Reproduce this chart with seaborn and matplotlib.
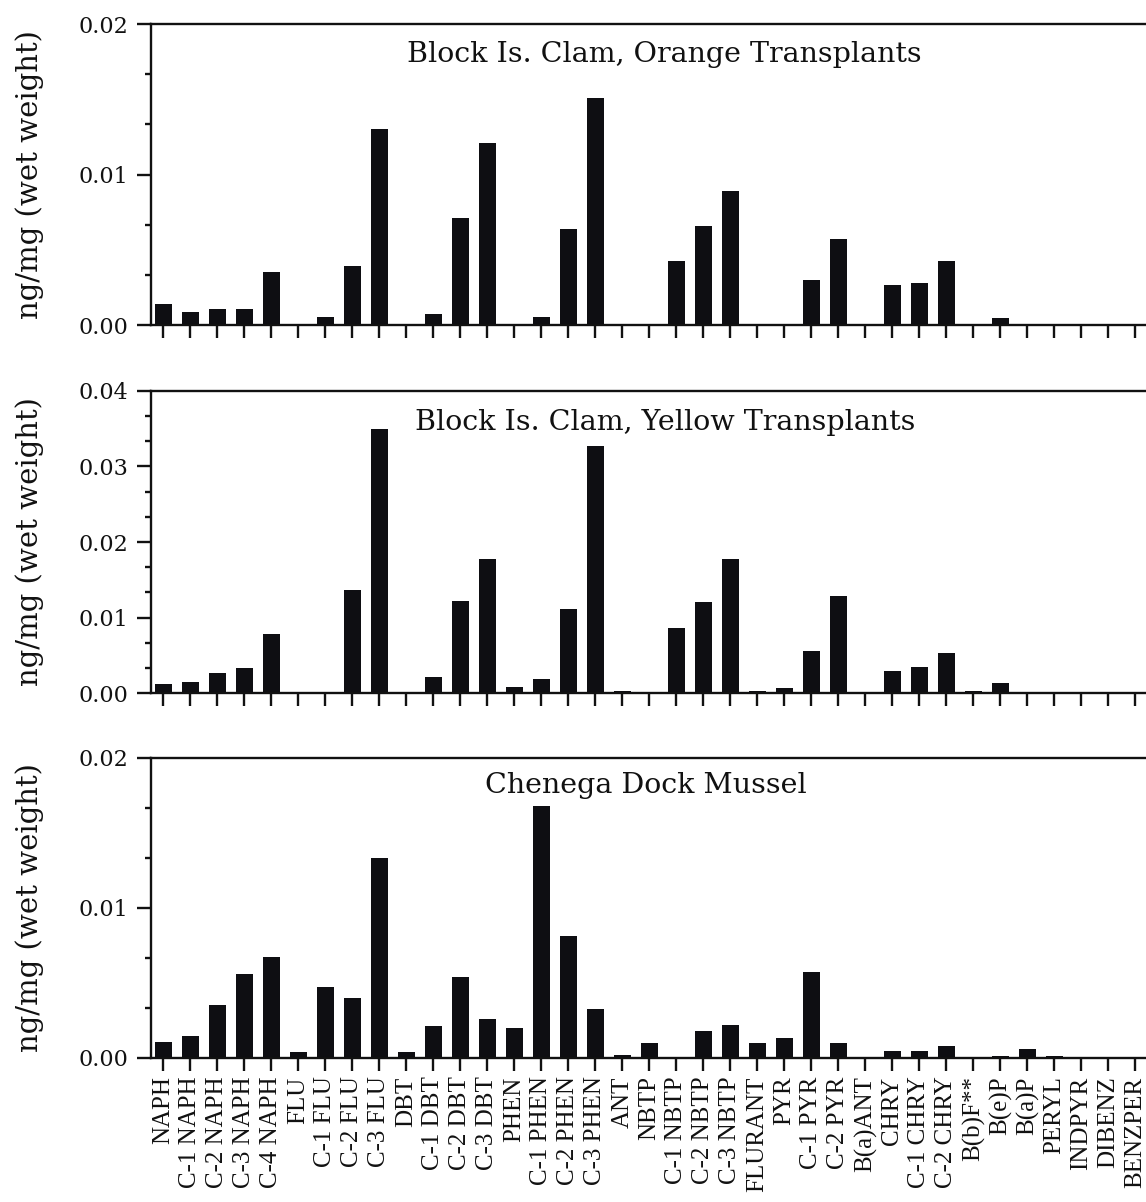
import numpy as np
import pandas as pd
import matplotlib
matplotlib.use("Agg")
import matplotlib.pyplot as plt
from matplotlib.ticker import MultipleLocator
import seaborn as sns

# PAH analytes, in the order they are plotted
compounds = [
    "NAPH", "C-1 NAPH", "C-2 NAPH", "C-3 NAPH", "C-4 NAPH",
    "FLU", "C-1 FLU", "C-2 FLU", "C-3 FLU",
    "DBT", "C-1 DBT", "C-2 DBT", "C-3 DBT",
    "PHEN", "C-1 PHEN", "C-2 PHEN", "C-3 PHEN",
    "ANT", "NBTP", "C-1 NBTP", "C-2 NBTP", "C-3 NBTP",
    "FLURANT", "PYR", "C-1 PYR", "C-2 PYR",
    "B(a)ANT", "CHRY", "C-1 CHRY", "C-2 CHRY",
    "B(b)F**", "B(e)P", "B(a)P", "PERYL",
    "INDPYR", "DIBENZ", "BENZPER",
]

# concentrations, ng/mg wet weight
orange_clam = [
    0.0014, 0.00088, 0.00106, 0.00106, 0.00354,
    0.0, 0.00055, 0.0039, 0.0130,
    0.0, 0.0007, 0.0071, 0.0121,
    0.0, 0.00051, 0.0064, 0.0151,
    0.0, 0.0, 0.00425, 0.0066, 0.0089,
    0.0, 0.0, 0.0030, 0.0057,
    0.0, 0.00266, 0.0028, 0.00425,
    0.0, 0.00049, 0.0, 0.0,
    0.0, 0.0, 0.0,
]
yellow_clam = [
    0.00123, 0.00154, 0.00264, 0.0033, 0.0079,
    0.0, 0.0, 0.01366, 0.0349,
    0.0001, 0.0022, 0.0122, 0.0178,
    0.0008, 0.00185, 0.0111, 0.0327,
    0.00035, 0.0, 0.0086, 0.0121, 0.0178,
    0.00035, 0.00075, 0.0056, 0.0129,
    0.0, 0.0029, 0.0035, 0.0053,
    0.0003, 0.0014, 0.0, 0.0,
    0.0, 0.0, 0.0,
]
chenega_mussel = [
    0.00107, 0.00144, 0.0035, 0.0056, 0.0067,
    0.00036, 0.0047, 0.0040, 0.0133,
    0.00036, 0.0021, 0.0054, 0.00256,
    0.0020, 0.0168, 0.0081, 0.00327,
    0.00016, 0.00096, 0.0, 0.0018, 0.0022,
    0.00096, 0.0013, 0.0057, 0.00096,
    0.0, 0.00045, 0.00042, 0.00078,
    0.0, 0.00012, 0.00058, 0.0001,
    0.0, 0.0, 0.0,
]

panel_titles = [
    "Block Is. Clam, Orange Transplants",
    "Block Is. Clam, Yellow Transplants",
    "Chenega Dock Mussel",
]
panel_ymax = [0.02, 0.04, 0.02]
panel_major = [0.01, 0.01, 0.01]
series = [orange_clam, yellow_clam, chenega_mussel]

sns.set_style("ticks")
plt.rcParams["font.family"] = ["DejaVu Serif"]

fig = plt.figure(figsize=(11.46, 12.02), dpi=100)

# axes rectangles [left, bottom, width, height] in figure fractions;
# the plotting area runs past the right edge of the canvas
axes_rects = [
    [0.1315, 0.7296, 0.894, 0.2504],
    [0.1315, 0.4232, 0.894, 0.2517],
    [0.1315, 0.12005, 0.894, 0.2496],
]
title_xy = [(0.5015, 0.874), (0.5025, 0.870), (0.4834, 0.883)]
bar_color = "#0e0e12"
ink = "#111111"
lw = 1.7

for i, (vals, title, ymax, rect) in enumerate(zip(series, panel_titles, panel_ymax, axes_rects)):
    ax = fig.add_axes(rect)
    df = pd.DataFrame({"compound": compounds, "conc": vals})
    sns.barplot(data=df, x="compound", y="conc", order=compounds, color=bar_color,
                saturation=1, width=0.65, linewidth=0, ax=ax)
    ax.set_xlim(-0.47, 37.48)
    ax.set_ylim(0, ymax)

    for side in ["left", "bottom", "top", "right"]:
        ax.spines[side].set_visible(True)
        ax.spines[side].set_linewidth(lw)
        ax.spines[side].set_color(ink)

    ax.yaxis.set_major_locator(MultipleLocator(panel_major[i]))
    ax.yaxis.set_minor_locator(MultipleLocator(panel_major[i] / 3))
    ax.set_yticklabels([f"{v:.2f}" for v in ax.get_yticks()])
    ax.tick_params(axis="y", which="major", direction="out", length=10, width=lw,
                   pad=6, labelsize=16, colors=ink)
    ax.tick_params(axis="y", which="minor", direction="out", length=4, width=lw,
                   colors=ink)
    ax.tick_params(axis="x", which="major", direction="out", length=9.5, width=lw,
                   colors=ink)

    ax.set_ylabel("ng/mg (wet weight)", fontsize=21, color=ink)
    ax.yaxis.set_label_coords(-0.104, 0.5)
    ax.set_xlabel("")

    if i < 2:
        ax.set_xticklabels([])
    else:
        ax.set_xticks(range(len(compounds)))
        ax.set_xticklabels(compounds, rotation=90, fontsize=18,
                           family=["Liberation Serif"], color=ink)
        ax.tick_params(axis="x", pad=4)

    tx, ty = title_xy[i]
    ax.text(tx, ty, title, transform=ax.transAxes, ha="center", va="baseline",
            fontsize=20.5, color=ink)

fig.savefig("out.png", dpi=100, facecolor="white")
